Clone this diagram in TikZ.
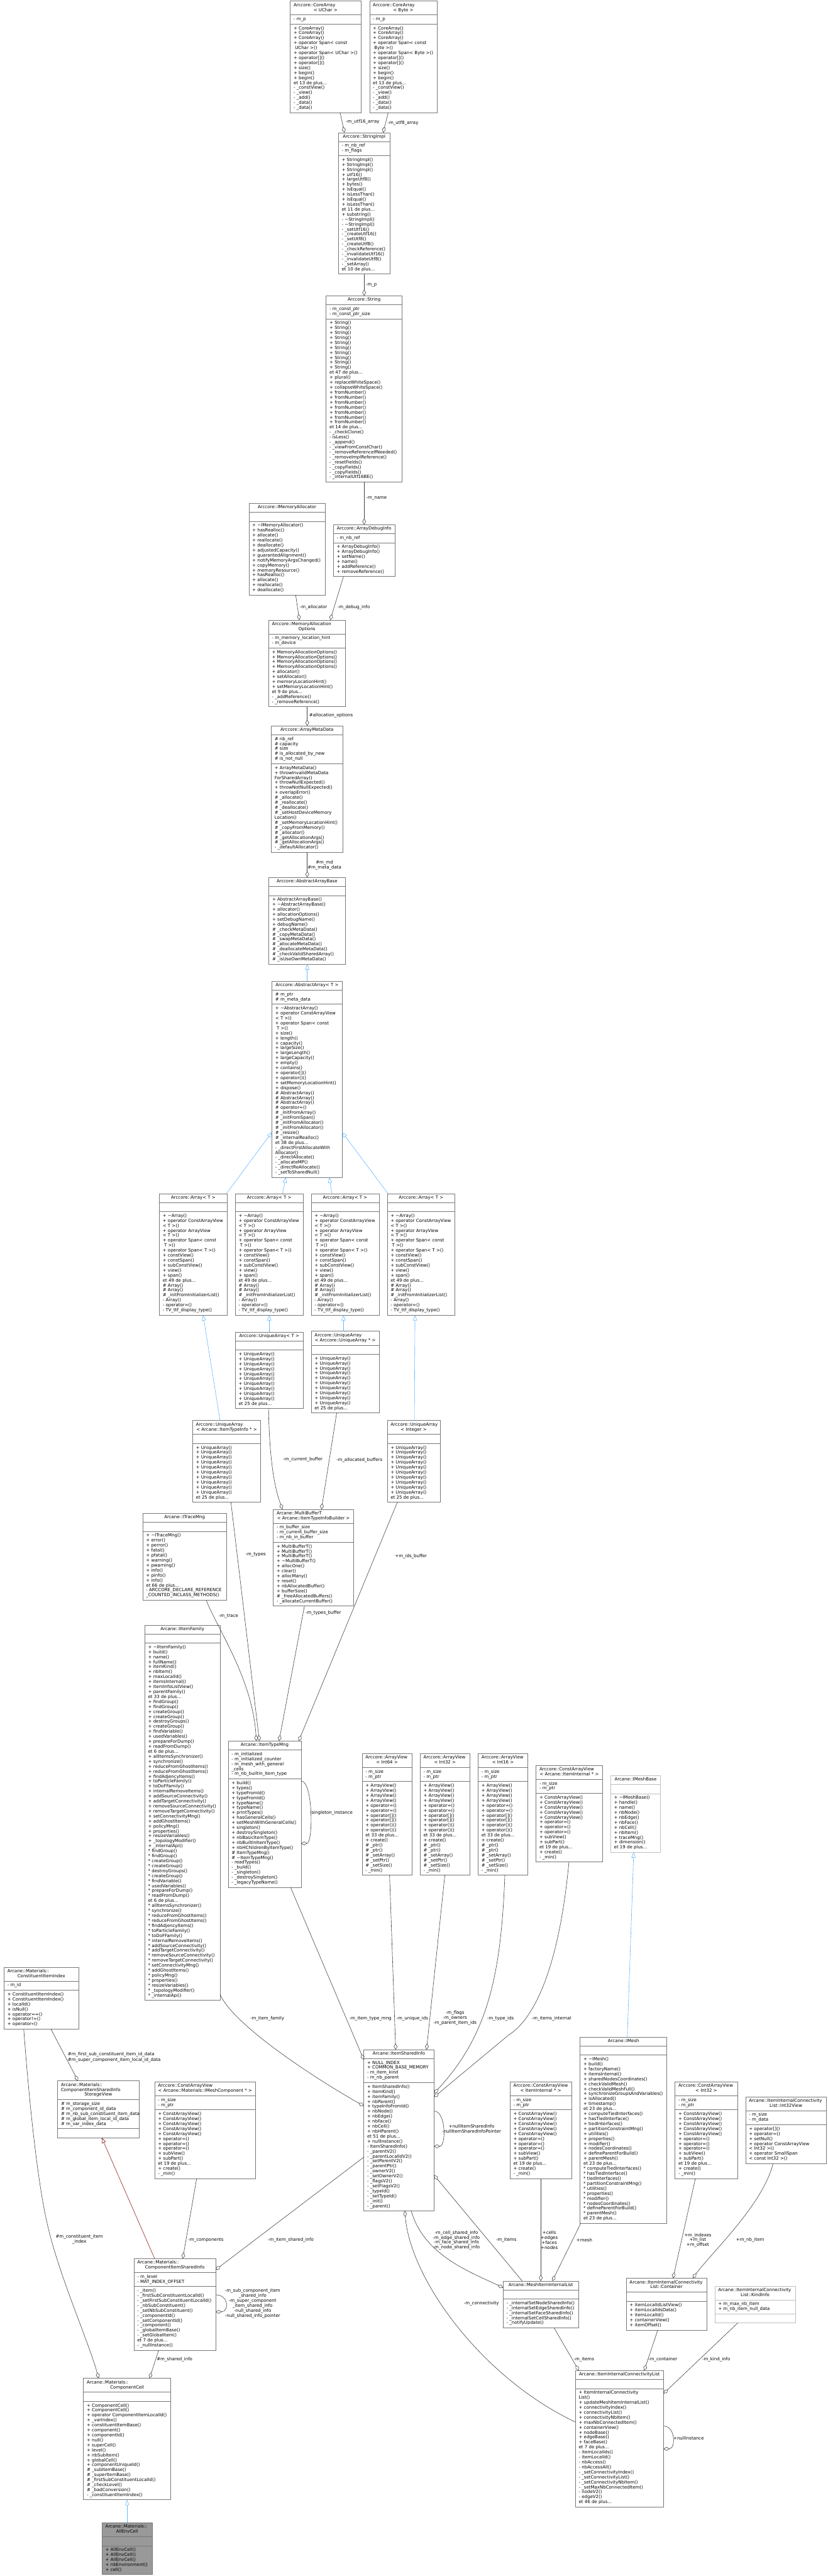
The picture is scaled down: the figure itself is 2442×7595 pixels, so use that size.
\documentclass[tikz,border=0pt]{standalone}
\usepackage{fontspec}
\setmainfont{DejaVu Sans}
\usetikzlibrary{arrows.meta,calc}
\definecolor{boxgray}{HTML}{777777}
\definecolor{lightgraybox}{HTML}{BFBFBF}
\definecolor{edgegray}{HTML}{404040}
\definecolor{inhblue}{HTML}{63B8FF}
\definecolor{privred}{HTML}{8B1A1A}
\definecolor{rootfill}{HTML}{999999}
\newcommand\umlfont{\fontsize{13}{14.67}\selectfont}
\newcommand\Tl[1]{\hbox to\bw{\hskip10pt\strut#1\hss}}
\newcommand\Tc[1]{\hbox to\bw{\hss\strut#1\hss}}
\newcommand\R[1]{\hbox to\bw{\hskip10pt\strut#1\hss}}
\newcommand\E{\hbox to\bw{\strut\hss}}
\newcommand\Sep{\vskip5.5pt{\color{boxgray}\hrule height1.2pt}\vskip5.5pt}
\newcommand\SepL{\vskip5.5pt{\color{lightgraybox}\hrule height1.2pt}\vskip5.5pt}
\newcommand\cls[6][]{%
  \expandafter\xdef\csname nx@#2\endcsname{#3}%
  \expandafter\xdef\csname ny@#2\endcsname{#4}%
  \node[umlbox,#1] (#2) at (#3,#4) {\def\bw{#5pt}\vbox{\vskip5.5pt#6\vskip5.5pt}};}
\newcommand\Bp[2]{($(#1.south west)+({#2-\csname nx@#1\endcsname},0)$)}
\newcommand\Tp[2]{($(#1.north west)+({#2-\csname nx@#1\endcsname},0)$)}
\newcommand\Lp[2]{($(#1.north west)+(0,{#2-\csname ny@#1\endcsname})$)}
\newcommand\Rp[2]{($(#1.north east)+(0,{#2-\csname ny@#1\endcsname})$)}
\begin{document}
\catcode`\_=12
\catcode`\~=12
\newcommand\ArrBody{\Tc{Arccore::Array< T >}\Sep\E\Sep
\R{+ ~Array()}\R{+ operator ConstArrayView}\R{< T >()}\R{+ operator ArrayView}\R{< T >()}\R{+ operator Span< const}\R{ T >()}\R{+ operator Span< T >()}\R{+ constView()}\R{+ constSpan()}\R{+ subConstView()}\R{+ view()}\R{+ span()}\R{et 49 de plus...}\R{\# Array()}\R{\# Array()}\R{\# _initFromInitializerList()}\R{- Array()}\R{- operator=()}\R{- TV_ttf_display_type()}}
\newcommand\UABody{\Sep\E\Sep\R{+ UniqueArray()}\R{+ UniqueArray()}\R{+ UniqueArray()}\R{+ UniqueArray()}\R{+ UniqueArray()}\R{+ UniqueArray()}\R{+ UniqueArray()}\R{+ UniqueArray()}\R{+ UniqueArray()}\R{+ UniqueArray()}\R{et 25 de plus...}}
\newcommand\AVBody[1]{\Tl{Arccore::ArrayView}\Tc{< #1 >}\Sep\R{- m_size}\R{- m_ptr}\Sep
\R{+ ArrayView()}\R{+ ArrayView()}\R{+ ArrayView()}\R{+ ArrayView()}\R{+ operator=()}\R{+ operator=()}\R{+ operator[]()}\R{+ operator[]()}\R{+ operator()()}\R{+ operator()()}\R{et 33 de plus...}\R{+ create()}\R{\# _ptr()}\R{\# _ptr()}\R{\# _setArray()}\R{\# _setPtr()}\R{\# _setSize()}\R{- _min()}}
\newcommand\CAVBody{\Sep\R{- m_size}\R{- m_ptr}\Sep\R{+ ConstArrayView()}\R{+ ConstArrayView()}\R{+ ConstArrayView()}\R{+ ConstArrayView()}\R{+ ConstArrayView()}\R{+ operator=()}\R{+ operator=()}\R{+ operator=()}\R{+ subView()}\R{+ subPart()}\R{et 19 de plus...}\R{+ create()}\R{- _min()}}
\begin{tikzpicture}[x=1pt,y=-1pt,
  umlbox/.style={draw=boxgray,line width=1.2pt,fill=white,inner sep=0pt,outer sep=0pt,anchor=north west,font=\umlfont},
  lightnode/.style={draw=lightgraybox},
  rootnode/.style={fill=rootfill},
  coll/.style={draw=edgegray,line width=1.1pt,-{Diamond[open,length=18pt,width=11pt,line width=1.1pt]}},
  inh/.style={draw=inhblue,line width=1.1pt,-{Triangle[open,length=16pt,width=12pt,line width=1.1pt]}},
  priv/.style={draw=privred,line width=1.1pt,-{Triangle[open,length=16pt,width=12pt,line width=1.1pt]}},
  lbl/.style={font=\umlfont,inner sep=0pt,anchor=west},
  lblc/.style={font=\umlfont,inner sep=0pt,align=center,anchor=center}]
\useasboundingbox (0,0) rectangle (2442,7595);
\fill[white] (0,0) rectangle (2442,7595);

% ---------- String part
\cls{cau}{856}{3}{208}{\Tl{Arccore::CoreArray}\Tc{< UChar >}\Sep\R{- m_p}\Sep
\R{+ CoreArray()}\R{+ CoreArray()}\R{+ CoreArray()}\R{+ operator Span< const}\R{ UChar >()}\R{+ operator Span< UChar >()}\R{+ operator[]()}\R{+ operator[]()}\R{+ size()}\R{+ begin()}\R{+ begin()}\R{et 13 de plus...}\R{- _constView()}\R{- _view()}\R{- _add()}\R{- _data()}\R{- _data()}}
\cls{cab}{1090}{3}{199}{\Tl{Arccore::CoreArray}\Tc{< Byte >}\Sep\R{- m_p}\Sep
\R{+ CoreArray()}\R{+ CoreArray()}\R{+ CoreArray()}\R{+ operator Span< const}\R{ Byte >()}\R{+ operator Span< Byte >()}\R{+ operator[]()}\R{+ operator[]()}\R{+ size()}\R{+ begin()}\R{+ begin()}\R{et 13 de plus...}\R{- _constView()}\R{- _view()}\R{- _add()}\R{- _data()}\R{- _data()}}
\cls{simpl}{998}{391}{152}{\Tc{Arccore::StringImpl}\Sep\R{- m_nb_ref}\R{- m_flags}\Sep
\R{+ StringImpl()}\R{+ StringImpl()}\R{+ StringImpl()}\R{+ utf16()}\R{+ largeUtf8()}\R{+ bytes()}\R{+ isEqual()}\R{+ isLessThan()}\R{+ isEqual()}\R{+ isLessThan()}\R{et 11 de plus...}\R{+ substring()}\R{- ~StringImpl()}\R{- ~StringImpl()}\R{- _setUtf16()}\R{- _createUtf16()}\R{- _setUtf8()}\R{- _createUtf8()}\R{- _checkReference()}\R{- _invalidateUtf16()}\R{- _invalidateUtf8()}\R{- _setArray()}\R{et 10 de plus...}}
\cls{str}{962}{872}{224}{\Tc{Arccore::String}\Sep\R{- m_const_ptr}\R{- m_const_ptr_size}\Sep
\R{+ String()}\R{+ String()}\R{+ String()}\R{+ String()}\R{+ String()}\R{+ String()}\R{+ String()}\R{+ String()}\R{+ String()}\R{+ String()}\R{et 47 de plus...}\R{+ plural()}\R{+ replaceWhiteSpace()}\R{+ collapseWhiteSpace()}\R{+ fromNumber()}\R{+ fromNumber()}\R{+ fromNumber()}\R{+ fromNumber()}\R{+ fromNumber()}\R{+ fromNumber()}\R{+ fromNumber()}\R{et 14 de plus...}\R{- _checkClone()}\R{- isLess()}\R{- _append()}\R{- _viewFromConstChar()}\R{- _removeReferenceIfNeeded()}\R{- _removeImplReference()}\R{- _resetFields()}\R{- _copyFields()}\R{- _copyFields()}\R{- _internalUtf16BE()}}
\cls{imem}{734}{1484}{225}{\Tc{Arccore::IMemoryAllocator}\Sep\E\Sep
\R{+ ~IMemoryAllocator()}\R{+ hasRealloc()}\R{+ allocate()}\R{+ reallocate()}\R{+ deallocate()}\R{+ adjustedCapacity()}\R{+ guarantedAlignment()}\R{+ notifyMemoryArgsChanged()}\R{+ copyMemory()}\R{+ memoryResource()}\R{+ hasRealloc()}\R{+ allocate()}\R{+ reallocate()}\R{+ deallocate()}}
\cls{adbg}{983}{1547}{182}{\Tc{Arccore::ArrayDebugInfo}\Sep\R{- m_nb_ref}\Sep
\R{+ ArrayDebugInfo()}\R{+ ArrayDebugInfo()}\R{+ setName()}\R{+ name()}\R{+ addReference()}\R{+ removeReference()}}
\cls{mao}{792}{1828}{226}{\Tl{Arccore::MemoryAllocation}\Tc{Options}\Sep\R{- m_memory_location_hint}\R{- m_device}\Sep
\R{+ MemoryAllocationOptions()}\R{+ MemoryAllocationOptions()}\R{+ MemoryAllocationOptions()}\R{+ MemoryAllocationOptions()}\R{+ allocator()}\R{+ setAllocator()}\R{+ memoryLocationHint()}\R{+ setMemoryLocationHint()}\R{et 9 de plus...}\R{- _addReference()}\R{- _removeReference()}}
\cls{amd}{800}{2140}{211}{\Tc{Arccore::ArrayMetaData}\Sep\R{\# nb_ref}\R{\# capacity}\R{\# size}\R{\# is_allocated_by_new}\R{\# is_not_null}\Sep
\R{+ ArrayMetaData()}\R{+ throwInvalidMetaData}\R{ForSharedArray()}\R{+ throwNullExpected()}\R{+ throwNotNullExpected()}\R{+ overlapError()}\R{\# _allocate()}\R{\# _reallocate()}\R{\# _deallocate()}\R{\# _setHostDeviceMemory}\R{Location()}\R{\# _setMemoryLocationHint()}\R{\# _copyFromMemory()}\R{\# _allocator()}\R{\# _getAllocationArgs()}\R{\# _getAllocationArgs()}\R{- _defaultAllocator()}}
\cls{aab}{793}{2587}{225}{\Tc{Arccore::AbstractArrayBase}\Sep\E\Sep
\R{+ AbstractArrayBase()}\R{+ ~AbstractArrayBase()}\R{+ allocator()}\R{+ allocationOptions()}\R{+ setDebugName()}\R{+ debugName()}\R{\# _checkMetaData()}\R{\# _copyMetaData()}\R{\# _swapMetaData()}\R{\# _allocateMetaData()}\R{\# _deallocateMetaData()}\R{\# _checkValidSharedArray()}\R{\# _isUseOwnMetaData()}}
\cls{aa}{802}{2893}{207}{\Tc{Arccore::AbstractArray< T >}\Sep\R{\# m_ptr}\R{\# m_meta_data}\Sep
\R{+ ~AbstractArray()}\R{+ operator ConstArrayView}\R{< T >()}\R{+ operator Span< const}\R{ T >()}\R{+ size()}\R{+ length()}\R{+ capacity()}\R{+ largeSize()}\R{+ largeLength()}\R{+ largeCapacity()}\R{+ empty()}\R{+ contains()}\R{+ operator[]()}\R{+ operator()()}\R{+ setMemoryLocationHint()}\R{+ dispose()}\R{\# AbstractArray()}\R{\# AbstractArray()}\R{\# AbstractArray()}\R{\# operator=()}\R{\# _initFromArray()}\R{\# _initFromSpan()}\R{\# _initFromAllocator()}\R{\# _initFromAllocator()}\R{\# _resize()}\R{\# _internalRealloc()}\R{et 38 de plus...}\R{- _directFirstAllocateWith}\R{Allocator()}\R{- _directAllocate()}\R{- _allocateMP()}\R{- _directReAllocate()}\R{- _setToSharedNull()}}
\cls{ar1}{470}{3519}{200}{\ArrBody}
\cls{ar2}{694}{3519}{200}{\ArrBody}
\cls{ar3}{918}{3519}{200}{\ArrBody}
\cls{ar4}{1142}{3519}{200}{\ArrBody}
\cls{uat}{694}{3927}{200}{\Tc{Arccore::UniqueArray< T >}\UABody}
\cls{uau}{918}{3925}{200}{\Tl{Arccore::UniqueArray}\Tc{< Arccore::UniqueArray * >}\UABody}
\cls{uait}{568}{4188}{201}{\Tl{Arccore::UniqueArray}\Tc{< Arcane::ItemTypeInfo * >}\UABody}
\cls{uai}{1142}{4188}{156}{\Tl{Arccore::UniqueArray}\Tc{< Integer >}\UABody}
\cls{itm}{421}{4462}{247}{\Tc{Arcane::ITraceMng}\Sep\E\Sep
\R{+ ~ITraceMng()}\R{+ error()}\R{+ perror()}\R{+ fatal()}\R{+ pfatal()}\R{+ warning()}\R{+ pwarning()}\R{+ info()}\R{+ pinfo()}\R{+ info()}\R{et 66 de plus...}\R{- ARCCORE_DECLARE_REFERENCE}\R{_COUNTED_INCLASS_METHODS()}}
\cls{mbt}{806}{4450}{237}{\Tl{Arcane::MultiBufferT}\Tc{< Arcane::ItemTypeInfoBuilder >}\Sep\R{- m_buffer_size}\R{- m_current_buffer_size}\R{- m_nb_in_buffer}\Sep
\R{+ MultiBufferT()}\R{+ MultiBufferT()}\R{+ MultiBufferT()}\R{+ ~MultiBufferT()}\R{+ allocOne()}\R{+ clear()}\R{+ allocMany()}\R{+ reset()}\R{+ nbAllocatedBuffer()}\R{+ bufferSize()}\R{\# _freeAllocatedBuffers()}\R{- _allocateCurrentBuffer()}}
\cls{ifam}{427}{4791}{222}{\Tc{Arcane::IItemFamily}\Sep\E\Sep
\R{+ ~IItemFamily()}\R{+ build()}\R{+ name()}\R{+ fullName()}\R{+ itemKind()}\R{+ nbItem()}\R{+ maxLocalId()}\R{+ itemsInternal()}\R{+ itemInfoListView()}\R{+ parentFamily()}\R{et 33 de plus...}\R{+ findGroup()}\R{+ findGroup()}\R{+ createGroup()}\R{+ createGroup()}\R{+ destroyGroups()}\R{+ createGroup()}\R{+ findVariable()}\R{+ usedVariables()}\R{+ prepareForDump()}\R{+ readFromDump()}\R{et 6 de plus...}\R{+ allItemsSynchronizer()}\R{+ synchronize()}\R{+ reduceFromGhostItems()}\R{+ reduceFromGhostItems()}\R{+ findAdjencyItems()}\R{+ toParticleFamily()}\R{+ toDoFFamily()}\R{+ internalRemoveItems()}\R{+ addSourceConnectivity()}\R{+ addTargetConnectivity()}\R{+ removeSourceConnectivity()}\R{+ removeTargetConnectivity()}\R{+ setConnectivityMng()}\R{+ addGhostItems()}\R{+ policyMng()}\R{+ properties()}\R{+ resizeVariables()}\R{+ _topologyModifier()}\R{+ _internalApi()}%
\R{* findGroup()}\R{* findGroup()}\R{* createGroup()}\R{* createGroup()}\R{* destroyGroups()}\R{* createGroup()}\R{* findVariable()}\R{* usedVariables()}\R{* prepareForDump()}\R{* readFromDump()}\R{et 6 de plus...}\R{* allItemsSynchronizer()}\R{* synchronize()}\R{* reduceFromGhostItems()}\R{* reduceFromGhostItems()}\R{* findAdjencyItems()}\R{* toParticleFamily()}\R{* toDoFFamily()}\R{* internalRemoveItems()}\R{* addSourceConnectivity()}\R{* addTargetConnectivity()}\R{* removeSourceConnectivity()}\R{* removeTargetConnectivity()}\R{* setConnectivityMng()}\R{* addGhostItems()}\R{* policyMng()}\R{* properties()}\R{* resizeVariables()}\R{* _topologyModifier()}\R{* _internalApi()}}
\cls{itmng}{673}{5133}{215}{\Tc{Arcane::ItemTypeMng}\Sep\R{- m_initialized}\R{- m_initialized_counter}\R{- m_mesh_with_general}\R{_cells}\R{- m_nb_builtin_item_type}\Sep
\R{+ build()}\R{+ types()}\R{+ typeFromId()}\R{+ typeFromId()}\R{+ typeName()}\R{+ typeName()}\R{+ printTypes()}\R{+ hasGeneralCells()}\R{+ setMeshWithGeneralCells()}\R{+ singleton()}\R{+ destroySingleton()}\R{+ nbBasicItemType()}\R{+ nbBuiltInItemType()}\R{+ nbHChildrenByItemType()}\R{\# ItemTypeMng()}\R{\# ~ItemTypeMng()}\R{- readTypes()}\R{- _build()}\R{- _singleton()}\R{- _destroySingleton()}\R{- _legacyTypeName()}}
\cls{av64}{1068}{5170}{147}{\AVBody{Int64}}
\cls{av32}{1239}{5170}{147}{\AVBody{Int32}}
\cls{av16}{1410}{5170}{147}{\AVBody{Int16}}
\cls{cavii}{1581}{5205}{196}{\Tl{Arccore::ConstArrayView}\Tc{< Arcane::ItemInternal * >}\CAVBody}
\cls[lightnode]{imb}{1801}{5235}{147}{\Tc{Arcane::IMeshBase}\SepL\E\SepL
\R{+ ~IMeshBase()}\R{+ handle()}\R{+ name()}\R{+ nbNode()}\R{+ nbEdge()}\R{+ nbFace()}\R{+ nbCell()}\R{+ nbItem()}\R{+ traceMng()}\R{+ dimension()}\R{et 19 de plus...}}
\cls{imesh}{1711}{6006}{256}{\Tc{Arcane::IMesh}\Sep\E\Sep
\R{+ ~IMesh()}\R{+ build()}\R{+ factoryName()}\R{+ itemsInternal()}\R{+ sharedNodesCoordinates()}\R{+ checkValidMesh()}\R{+ checkValidMeshFull()}\R{+ synchronizeGroupsAndVariables()}\R{+ isAllocated()}\R{+ timestamp()}\R{et 23 de plus...}\R{+ computeTiedInterfaces()}\R{+ hasTiedInterface()}\R{+ tiedInterfaces()}\R{+ partitionConstraintMng()}\R{+ utilities()}\R{+ properties()}\R{+ modifier()}\R{+ nodesCoordinates()}\R{+ defineParentForBuild()}\R{+ parentMesh()}\R{et 23 de plus...}\R{* computeTiedInterfaces()}\R{* hasTiedInterface()}\R{* tiedInterfaces()}\R{* partitionConstraintMng()}\R{* utilities()}\R{* properties()}\R{* modifier()}\R{* nodesCoordinates()}\R{* defineParentForBuild()}\R{* parentMesh()}\R{et 23 de plus...}}
\cls{cavmc}{456}{6138}{298}{\Tl{Arccore::ConstArrayView}\Tc{< Arcane::Materials::IMeshComponent * >}\CAVBody}
\cls{cii}{12}{5800}{220}{\Tl{Arcane::Materials::}\Tc{ConstituentItemIndex}\Sep\R{- m_id}\Sep
\R{+ ConstituentItemIndex()}\R{+ ConstituentItemIndex()}\R{+ localId()}\R{+ isNull()}\R{+ operator==()}\R{+ operator!=()}\R{+ operator<<()}}
\cls{sv}{170}{6135}{240}{\Tl{Arcane::Materials::}\Tl{ComponentItemSharedInfo}\Tc{StorageView}\Sep\R{\# m_storage_size}\R{\# m_component_id_data}\R{\# m_nb_sub_constituent_item_data}\R{\# m_global_item_local_id_data}\R{\# m_var_index_data}\Sep\E}
\cls{isi}{1073}{6043}{207}{\Tc{Arcane::ItemSharedInfo}\Sep\R{+ NULL_INDEX}\R{+ COMMON_BASE_MEMORY}\R{- m_item_kind}\R{- m_nb_parent}\Sep
\R{+ ItemSharedInfo()}\R{+ itemKind()}\R{+ itemFamily()}\R{+ nbParent()}\R{+ typeInfoFromId()}\R{+ nbNode()}\R{+ nbEdge()}\R{+ nbFace()}\R{+ nbCell()}\R{+ nbHParent()}\R{et 51 de plus...}\R{+ nullInstance()}\R{- ItemSharedInfo()}\R{- _parentV2()}\R{- _parentLocalIdV2()}\R{- _setParentV2()}\R{- _parentPtr()}\R{- _ownerV2()}\R{- _setOwnerV2()}\R{- _flagsV2()}\R{- _setFlagsV2()}\R{- _typeId()}\R{- _setTypeId()}\R{- _init()}\R{- _parent()}}
\cls{cavi}{1504}{6138}{182}{\Tl{Arccore::ConstArrayView}\Tc{< ItemInternal * >}\CAVBody}
\cls{cav32}{1991}{6138}{184}{\Tl{Arccore::ConstArrayView}\Tc{< Int32 >}\CAVBody}
\cls{i32v}{2199}{6182}{238}{\Tl{Arcane::ItemInternalConnectivity}\Tc{List::Int32View}\Sep\R{- m_size}\R{- m_data}\Sep
\R{+ operator[]()}\R{+ operator=()}\R{+ setNull()}\R{+ operator ConstArrayView}\R{< Int32 >()}\R{+ operator SmallSpan}\R{< const Int32 >()}}
\cls{cisi}{395}{6659}{241}{\Tl{Arcane::Materials::}\Tc{ComponentItemSharedInfo}\Sep\R{- m_level}\R{- MAT_INDEX_OFFSET}\Sep
\R{- _item()}\R{- _firstSubConstituentLocalId()}\R{- _setFirstSubConstituentLocalId()}\R{- _nbSubConstituent()}\R{- _setNbSubConstituent()}\R{- _componentId()}\R{- _setComponentId()}\R{- _component()}\R{- _globalItemBase()}\R{- _setGlobalItem()}\R{et 7 de plus...}\R{- _nullInstance()}}
\cls{mil}{1484}{6725}{222}{\Tc{Arcane::MeshItemInternalList}\Sep\E\Sep
\R{- _internalSetNodeSharedInfo()}\R{- _internalSetEdgeSharedInfo()}\R{- _internalSetFaceSharedInfo()}\R{- _internalSetCellSharedInfo()}\R{- _notifyUpdate()}}
\cls{cont}{1847}{6717}{237}{\Tl{Arcane::ItemInternalConnectivity}\Tc{List::Container}\Sep\E\Sep
\R{+ itemLocalIdListView()}\R{+ itemLocalIdsData()}\R{+ itemLocalId()}\R{+ containerView()}\R{+ itemOffset()}}
\cls[lightnode]{kind}{2108}{6740}{238}{\Tl{Arcane::ItemInternalConnectivity}\Tc{List::KindInfo}\SepL\R{+ m_max_nb_item}\R{+ m_nb_item_null_data}\SepL\E}
\cls{iicl}{1697}{6989}{260}{\Tc{Arcane::ItemInternalConnectivityList}\Sep\E\Sep
\R{+ ItemInternalConnectivity}\R{List()}\R{+ updateMeshItemInternalList()}\R{+ connectivityIndex()}\R{+ connectivityList()}\R{+ connectivityNbItem()}\R{+ maxNbConnectedItem()}\R{+ containerView()}\R{+ nodeBase()}\R{+ edgeBase()}\R{+ faceBase()}\R{et 7 de plus...}\R{- itemLocalIds()}\R{- itemLocalId()}\R{- nbAccess()}\R{- nbAccessAll()}\R{- _setConnectivityIndex()}\R{- _setConnectivityList()}\R{- _setConnectivityNbItem()}\R{- _setMaxNbConnectedItem()}\R{- nodeV2()}\R{- edgeV2()}\R{et 46 de plus...}}
\cls{ccell}{246}{7012}{258}{\Tl{Arcane::Materials::}\Tc{ComponentCell}\Sep\E\Sep
\R{+ ComponentCell()}\R{+ ComponentCell()}\R{+ operator ComponentItemLocalId()}\R{+ _varIndex()}\R{+ constituentItemBase()}\R{+ component()}\R{+ componentId()}\R{+ null()}\R{+ superCell()}\R{+ level()}\R{+ nbSubItem()}\R{+ globalCell()}\R{+ componentUniqueId()}\R{\# _subItemBase()}\R{\# _superItemBase()}\R{\# _firstSubConstituentLocalId()}\R{\# _checkLevel()}\R{\# _badConversion()}\R{- _constituentItemIndex()}}
\cls[rootnode]{aec}{301}{7438}{148}{\Tl{Arcane::Materials::}\Tc{AllEnvCell}\Sep\E\Sep
\R{+ AllEnvCell()}\R{+ AllEnvCell()}\R{+ AllEnvCell()}\R{+ nbEnvironment()}\R{+ cell()}}

% ---------- connectors
\draw[coll] \Bp{cau}{1003} -- \Tp{simpl}{1016};
\node[lbl] (l1) at (1020,360) {-m_utf16_array};
\draw[coll] \Bp{cab}{1145} -- \Tp{simpl}{1130};
\node[lbl] (l2) at (1143,362) {-m_utf8_array};
\draw[coll] \Bp{simpl}{1074} -- \Tp{str}{1074};
\node[lbl] (l3) at (1079,840) {-m_p};
\draw[coll] \Bp{str}{1074} -- \Tp{adbg}{1074};
\node[lbl] (l4) at (1080,1470) {-m_name};
\draw[coll] \Bp{imem}{872} -- \Tp{mao}{883};
\node[lbl] (l5) at (884,1790) {-m_allocator};
\draw[coll] \Bp{adbg}{1013} -- \Tp{mao}{974};
\node[lbl] (l6) at (995,1790) {-m_debug_info};
\draw[coll] \Bp{mao}{906} -- \Tp{amd}{906};
\node[lbl] (l7) at (912,2109) {\#allocation_options};
\draw[coll] \Bp{amd}{906} -- \Tp{aab}{906};
\node[lblc] (l8) at (957,2550) {\#m_md\\\#m_meta_data};
\draw[inh] \Tp{aa}{906} -- \Bp{aab}{906};
\draw[inh] \Tp{ar1}{668} -- \Lp{aa}{3338};
\draw[inh] \Tp{ar2}{833} -- \Bp{aa}{843};
\draw[inh] \Tp{ar3}{979} -- \Bp{aa}{971};
\draw[inh] \Tp{ar4}{1144} -- \Rp{aa}{3338};
\draw[inh] \Tp{uat}{794} -- \Bp{ar2}{794};
\draw[inh] \Tp{uau}{1013} -- \Bp{ar3}{1013};
\draw[inh] \Tp{uait}{649} -- \Bp{ar1}{599};
\draw[inh] \Tp{uai}{1222} -- \Bp{ar4}{1224};
\draw[coll] \Bp{uat}{792} .. controls (795,4330) and (815,4400) .. \Tp{mbt}{833};
\node[lbl] (l9) at (835,4303) {-m_current_buffer};
\draw[coll] \Bp{uau}{993} -- \Tp{mbt}{948};
\node[lbl] (l10) at (992,4304) {-m_allocated_buffers};
\draw[coll] \Bp{itm}{608} .. controls (640,4800) and (745,4950) .. \Tp{itmng}{756};
\node[lbl] (l11) at (645,4766) {-m_trace};
\draw[coll] \Bp{uait}{681} -- \Tp{itmng}{765};
\node[lbl] (l12) at (724,4584) {-m_types};
\draw[coll] \Bp{mbt}{898} -- \Tp{itmng}{823};
\node[lbl] (l13) at (901,4756) {-m_types_buffer};
\draw[coll] \Bp{uai}{1172} -- \Tp{itmng}{881};
\node[lbl] (l14) at (1165,4589) {+m_ids_buffer};
\draw[coll] \Rp{itmng}{5251} .. controls +(36,0) and +(36,0) .. \Rp{itmng}{5435};
\node[lbl] (l15) at (914,5345) {-singleton_instance};
\draw[coll] \Bp{itmng}{857} -- \Lp{isi}{6073};
\node[lbl] (l16) at (1030,5951) {-m_item_type_mng};
\draw[coll] \Rp{ifam}{5880} .. controls (690,5975) and (950,6140) .. \Lp{isi}{6209};
\node[lbl] (l17) at (738,5951) {-m_item_family};
\draw[coll] \Bp{av64}{1149} -- \Tp{isi}{1167};
\node[lbl] (l18) at (1169,5951) {-m_unique_ids};
\draw[coll] \Bp{av32}{1312} -- \Tp{isi}{1258};
\node[lblc] (l19) at (1342,5950) {-m_flags\\-m_owners\\-m_parent_item_ids};
\draw[coll] \Bp{av16}{1489} .. controls (1478,5820) and (1440,6000) .. \Rp{isi}{6172};
\node[lbl] (l20) at (1437,5951) {-m_type_ids};
\draw[coll] \Bp{cavii}{1678} .. controls (1650,5790) and (1580,5950) .. (1500,6000) -- \Rp{isi}{6183};
\node[lbl] (l21) at (1568,5951) {-m_items_internal};
\draw[coll] \Rp{isi}{6224} .. controls +(36,0) and +(36,0) .. \Rp{isi}{6328};
\node[lblc] (l22) at (1391,6277) {+nullItemSharedInfo\\-nullItemSharedInfoPointer};
\draw[coll] \Lp{iicl}{7141} .. controls (1420,7010) and (1210,6720) .. \Bp{isi}{1194};
\node[lbl] (l23) at (1368,6792) {-m_connectivity};
\draw[coll] \Tp{mil}{1540} -- \Rp{isi}{6413};
\node[lbl] (l24) at (1463,6605) {-m_items};
\draw[coll] \Bp{isi}{1213} .. controls (1250,6650) and (1390,6700) .. \Lp{mil}{6745};
\node[lblc] (l25) at (1346,6605) {-m_cell_shared_info\\-m_edge_shared_info\\-m_face_shared_info\\-m_node_shared_info};
\draw[coll] \Bp{cavi}{1595} -- \Tp{mil}{1595};
\node[lblc] (l26) at (1620,6605) {+cells\\+edges\\+faces\\+nodes};
\draw[coll] \Bp{imesh}{1713} -- \Tp{mil}{1629};
\node[lbl] (l27) at (1700,6605) {+mesh};
\draw[coll] \Bp{mil}{1634} -- \Tp{iicl}{1707};
\node[lbl] (l28) at (1692,6956) {-m_items};
\draw[coll] \Bp{cont}{1940} -- \Tp{iicl}{1900};
\node[lbl] (l29) at (1912,6956) {-m_container};
\draw[coll] \Bp{kind}{2176} -- \Rp{iicl}{7057};
\node[lbl] (l30) at (2071,6956) {-m_kind_info};
\draw[coll] \Rp{iicl}{7153} .. controls +(36,0) and +(36,0) .. \Rp{iicl}{7220};
\node[lbl] (l31) at (1986,7188) {+nullInstance};
\draw[coll] \Bp{cav32}{2051} -- \Tp{cont}{1985};
\node[lblc] (l32) at (2058,6605) {+m_indexes\\+m_list\\+m_offset};
\draw[coll] \Bp{i32v}{2280} .. controls (2250,6500) and (2100,6640) .. \Tp{cont}{2043};
\node[lbl] (l33) at (2171,6605) {+m_nb_item};
\draw[inh] \Tp{imesh}{1850} -- \Bp{imb}{1869};
\draw[coll] \Bp{cavmc}{580} -- \Tp{cisi}{539};
\node[lbl] (l34) at (555,6605) {-m_components};
\draw[coll] \Lp{isi}{6360} -- \Rp{cisi}{6692};
\node[lbl] (l35) at (790,6605) {-m_item_shared_info};
\draw[coll] \Rp{cisi}{6766} .. controls +(40,0) and +(40,0) .. \Rp{cisi}{6816};
\node[lblc] (l36) at (745,6791) {-m_sub_component_item\\_shared_info\\-m_super_component\\_item_shared_info\\-null_shared_info\\-null_shared_info_pointer};
\draw[coll] \Bp{cisi}{468} -- \Tp{ccell}{441};
\node[lbl] (l37) at (462,6956) {\#m_shared_info};
\draw[coll] \Bp{cii}{150} -- \Tp{sv}{230};
\node[lbl] (l38) at (200,6058) {\#m_first_sub_constituent_item_id_data};
\node[lbl] (l38b) at (200,6073) {\#m_super_component_item_local_id_data};
\draw[coll] \Bp{cii}{70} .. controls (90,6250) and (115,6450) .. (138,6550) .. controls (170,6700) and (260,6900) .. \Tp{ccell}{291};
\node[lblc] (l39) at (234,6603) {\#m_constituent_item\\_index};
\draw[priv] \Tp{cisi}{456} -- \Bp{sv}{300};
\draw[inh] \Tp{aec}{375} -- \Bp{ccell}{375};
\end{tikzpicture}
\end{document}
